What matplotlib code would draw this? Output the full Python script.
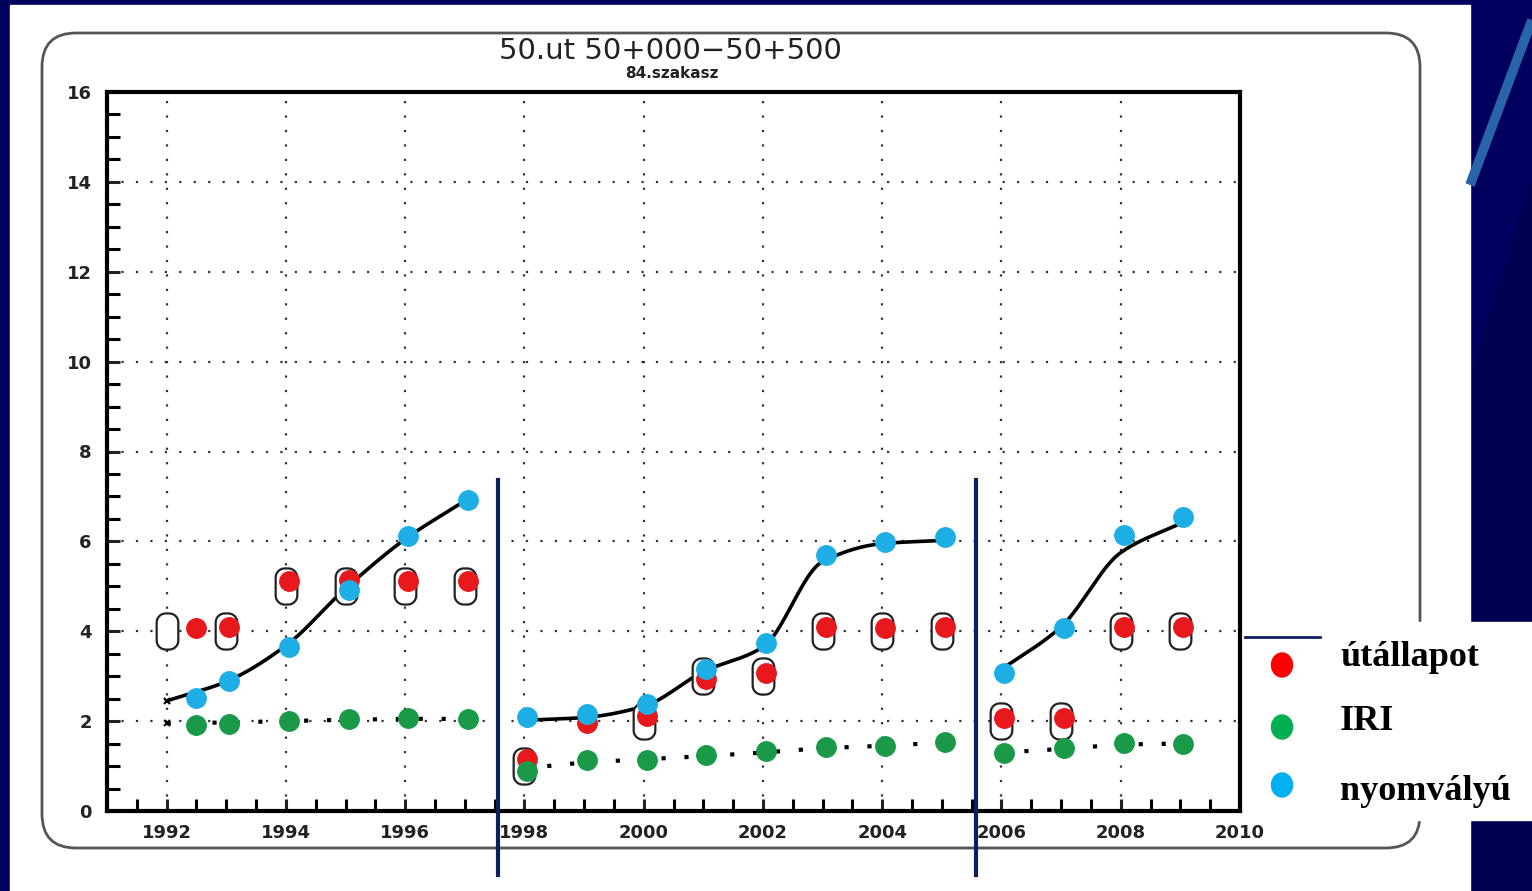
import numpy as np
import matplotlib
matplotlib.use("Agg")
import matplotlib.pyplot as plt
import matplotlib.path as mpath
from matplotlib.patches import FancyBboxPatch, Rectangle, Ellipse, Polygon

# --- data ---
dot_years = [1992.5, 1993.05, 1994.05, 1995.05, 1996.05, 1997.05,
             1998.05, 1999.05, 2000.05, 2001.05, 2002.05, 2003.05, 2004.05, 2005.05,
             2006.05, 2007.05, 2008.05, 2009.05]
utallapot = [4.08, 4.1, 5.12, 5.14, 5.12, 5.12,
             1.16, 1.96, 2.12, 2.94, 3.07, 4.1, 4.08, 4.1,
             2.07, 2.07, 4.1, 4.1]
iri = [1.92, 1.94, 2.0, 2.05, 2.07, 2.05,
       0.89, 1.14, 1.14, 1.25, 1.34, 1.43, 1.45, 1.54,
       1.29, 1.40, 1.51, 1.49]
nyomvalyu = [2.52, 2.9, 3.65, 4.92, 6.12, 6.93,
             2.09, 2.16, 2.38, 3.16, 3.74, 5.7, 5.99, 6.1,
             3.07, 4.07, 6.15, 6.55]

rect_years = [1992, 1993, 1994, 1995, 1996, 1997, 1998, 2000, 2001, 2002,
              2003, 2004, 2005, 2006, 2007, 2008, 2009]
rect_vals = [4.0, 4.0, 5.0, 5.0, 5.0, 5.0, 1.0, 2.0, 3.0, 3.0,
             4.0, 4.0, 4.0, 2.0, 2.0, 4.0, 4.0]

# fitted curves per section (solid = rutting, dotted = IRI)
sections = [[1992, 1993, 1994, 1995, 1996, 1997],
            [1998, 1999, 2000, 2001, 2002, 2003, 2004, 2005],
            [2006, 2007, 2008, 2009]]
rut_fit = [[2.45, 2.88, 3.68, 4.95, 6.05, 6.9],
           [2.02, 2.08, 2.33, 3.1, 3.65, 5.55, 5.95, 6.02],
           [3.15, 4.1, 5.75, 6.4]]
iri_fit = [[1.95, 1.97, 2.0, 2.03, 2.05, 2.05],
           [0.95, 1.08, 1.15, 1.22, 1.3, 1.4, 1.45, 1.52],
           [1.3, 1.38, 1.48, 1.5]]
breaks = [1997.55, 2005.57]

legend_labels = ["útállapot", "IRI", "nyomvályú"]
legend_colors = ["#ff0000", "#00b050", "#00b0f0"]

NAVY = "#00005e"
W, H = 1532, 891


def pchip(x, y, xs):
    # monotone cubic Hermite, only used to draw the smooth curve
    x = np.asarray(x, float); y = np.asarray(y, float)
    h = np.diff(x); d = np.diff(y) / h
    m = np.zeros_like(y)
    for i in range(1, len(y) - 1):
        if d[i - 1] * d[i] > 0:
            w1 = 2 * h[i] + h[i - 1]; w2 = h[i] + 2 * h[i - 1]
            m[i] = (w1 + w2) / (w1 / d[i - 1] + w2 / d[i])
    m[0] = d[0]; m[-1] = d[-1]
    idx = np.clip(np.searchsorted(x, xs) - 1, 0, len(h) - 1)
    t = (xs - x[idx]) / h[idx]
    h00 = 2*t**3 - 3*t**2 + 1; h10 = t**3 - 2*t**2 + t
    h01 = -2*t**3 + 3*t**2; h11 = t**3 - t**2
    return h00*y[idx] + h10*h[idx]*m[idx] + h01*y[idx+1] + h11*h[idx]*m[idx+1]


def rounded_rect(w=0.6, h=1.0, r=0.25, n=8):
    pts = []
    corners = [(w/2 - r, h/2 - r, 0), (-w/2 + r, h/2 - r, 90),
               (-w/2 + r, -h/2 + r, 180), (w/2 - r, -h/2 + r, 270)]
    for cx, cy, a0 in corners:
        a = np.radians(np.linspace(a0, a0 + 90, n))
        pts += list(zip(cx + r*np.cos(a), cy + r*np.sin(a)))
    pts.append(pts[0])
    return mpath.Path(pts, closed=True)


fig = plt.figure(figsize=(W/100, H/100), dpi=100)
fig.patch.set_facecolor(NAVY)

# background slide decorations in pixel coordinates
bg = fig.add_axes([0, 0, 1, 1], zorder=0)
bg.set_xlim(0, W); bg.set_ylim(H, 0); bg.axis("off")
bg.add_patch(Polygon([[1470, 380], [1532, 180], [1532, 891], [1470, 891]],
                     closed=True, color="#000050"))
bg.plot([1470, 1532], [185, 20], color="#2a64a8", lw=7, solid_capstyle="butt")
bg.add_patch(Rectangle((10, 5), 1460, 886, color="white"))
bg.add_patch(FancyBboxPatch((42, 33), 1378, 815,
                            boxstyle="round,pad=0,rounding_size=34",
                            fc="none", ec="#555555", lw=2))

fig.text(670/W, 1 - 51/H, "50.ut 50+000−50+500", ha="center", va="center",
         fontsize=21, family="DejaVu Sans", color="#222222")
fig.text(672/W, 1 - 73/H, "84.szakasz", ha="center", va="center",
         fontsize=11, weight="bold", family="DejaVu Sans", color="#222222")

ax = fig.add_axes([107/W, 1 - 811/H, (1240 - 107)/W, (811 - 92)/H], zorder=2)
ax.set_facecolor("none")
ax.set_xlim(1991, 2010)
ax.set_ylim(0, 16)
ax.set_xticks(np.arange(1992, 2011, 2))
ax.set_yticks(np.arange(0, 17, 2))
ax.set_xticks(np.arange(1991, 2010.01, 0.5), minor=True)
ax.set_yticks(np.arange(0, 16.01, 0.5), minor=True)
ax.tick_params(which="major", direction="in", length=9, width=2.2,
               labelsize=13, colors="#222222")
ax.tick_params(which="minor", direction="in", length=9, width=2.2)
ax.tick_params(axis="x", pad=9)
ax.tick_params(axis="y", pad=11)
for lab in ax.get_xticklabels() + ax.get_yticklabels():
    lab.set_fontweight("bold")
for s in ax.spines.values():
    s.set_linewidth(3)
ax.grid(True, which="major", color="#333333", linestyle=(0, (1, 5.5)), lw=1.6)

# fitted curves
for yrs, rf, irf in zip(sections, rut_fit, iri_fit):
    xs = np.linspace(yrs[0], yrs[-1], 200)
    ax.plot(xs, pchip(yrs, rf, xs), color="black", lw=2.6, zorder=3)
    ax.plot(yrs, irf, color="black", lw=3, linestyle=(0, (1, 4.5)), zorder=3)
ax.plot([1992, 1992], [rut_fit[0][0], iri_fit[0][0]], "x", color="black",
        ms=5, mew=1.5, zorder=3)

ax.plot(rect_years, rect_vals, linestyle="none", marker=rounded_rect(),
        ms=26, mfc="white", mec="#222222", mew=1.6, zorder=4)
ax.plot(dot_years, utallapot, "o", color="#e8191c", ms=14, zorder=5)
ax.plot(dot_years, iri, "o", color="#1a9a48", ms=14, zorder=5)
ax.plot(dot_years, nyomvalyu, "o", color="#1eaee6", ms=14, zorder=6)

# section boundaries
for b in breaks:
    ax.plot([b, b], [-1.43, 7.37], color="#0c1f5e", lw=3, clip_on=False, zorder=7)

# legend box on the slide
fg = fig.add_axes([0, 0, 1, 1], zorder=8)
fg.set_xlim(0, W); fg.set_ylim(H, 0); fg.axis("off")
fg.patch.set_alpha(0)
fg.add_patch(Rectangle((1245, 622), 287, 198, color="white"))
fg.plot([1245, 1320], [637, 637], color="#0c1f5e", lw=2)
for i, (lab, col) in enumerate(zip(legend_labels, legend_colors)):
    yy = [665, 727, 785][i]
    fg.add_patch(Ellipse((1282, yy), 21, 24, color=col))
    fg.text(1340, [657, 722, 792][i], lab, va="center", ha="left",
            fontsize=26, weight="bold", family="Liberation Serif", color="black")

fig.savefig("out.png", dpi=100, facecolor=fig.get_facecolor())
